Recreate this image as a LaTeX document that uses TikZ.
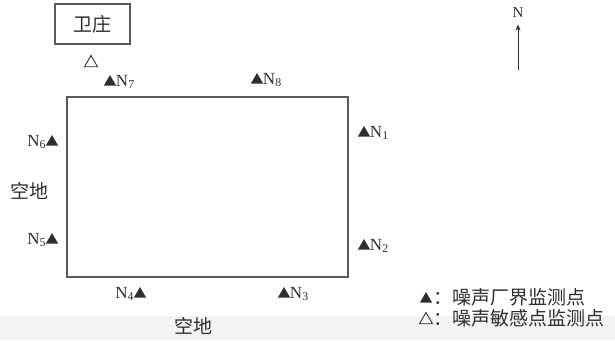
\documentclass[tikz,border=0pt]{standalone}
\usepackage{fontspec}
\setmainfont{Liberation Serif}
\newfontfamily\cjk{Noto Sans CJK SC}
\usetikzlibrary{
    arrows.meta,
    positioning,
    calc,
    shapes.geometric,
    backgrounds
}
\definecolor{wzInk}{HTML}{2E2E2E}
\definecolor{wzLine}{HTML}{5A5A5A}
\definecolor{wzBand}{HTML}{F3F3F3}
\tikzset{
    wzFilled/.style={
        regular polygon,
        regular polygon sides=3,
        fill=wzInk,
        draw=none,
        inner sep=0pt,
        minimum size=14pt
    },
    wzHollow/.style={
        regular polygon,
        regular polygon sides=3,
        draw=wzInk,
        fill=white,
        line width=0.9pt,
        inner sep=0pt,
        minimum size=15pt
    },
    wzPoint/.style={
        text=wzInk,
        font=\fontsize{17}{20}\selectfont,
        inner sep=0.5pt
    },
    wzText/.style={
        text=wzInk,
        font=\cjk\fontsize{19}{22}\selectfont,
        inner sep=0.5pt
    },
    wzBox/.style={
        draw=wzLine,
        line width=1.3pt,
        minimum width=75pt,
        minimum height=40pt,
        inner sep=0pt
    },
    wzSite/.style={
        draw=wzLine,
        line width=1.5pt,
        minimum width=281pt,
        minimum height=180pt,
        inner sep=0pt
    },
    wzArrow/.style={-{Stealth[length=6pt,width=5pt]},line width=1pt,draw=wzInk}
}
\begin{document}
\begin{tikzpicture}[x=1pt,y=-1pt]
        \useasboundingbox (0,0) rectangle (615,340);
        \begin{scope}[on background layer]
            \fill[wzBand] (0,316) rectangle (615,340);
        \end{scope}

        % village and site
        \node[wzBox] (village) at (92.5,24) {};
        \node[wzText] (villageName) at (village) {卫庄};
        \node[wzSite] (site) at (207.5,187) {};

        % sensitive point
        \node[wzHollow] (sens) at (91,63) {};

        % boundary points
        \node[wzFilled] (t1) at (364,133) {};
        \node[wzPoint,right=1pt of t1] (n1) {N\textsubscript{1}};
        \node[wzFilled] (t2) at (364,246) {};
        \node[wzPoint,right=1pt of t2] (n2) {N\textsubscript{2}};
        \node[wzFilled] (t3) at (284,294) {};
        \node[wzPoint,right=1pt of t3] (n3) {N\textsubscript{3}};
        \node[wzFilled] (t4) at (140,294) {};
        \node[wzPoint,left=1pt of t4] (n4) {N\textsubscript{4}};
        \node[wzFilled] (t5) at (52,240) {};
        \node[wzPoint,left=1pt of t5] (n5) {N\textsubscript{5}};
        \node[wzFilled] (t6) at (52,142) {};
        \node[wzPoint,left=1pt of t6] (n6) {N\textsubscript{6}};
        \node[wzFilled] (t7) at (110,82) {};
        \node[wzPoint,right=1pt of t7] (n7) {N\textsubscript{7}};
        \node[wzFilled] (t8) at (257,80) {};
        \node[wzPoint,right=1pt of t8] (n8) {N\textsubscript{8}};

        % surroundings
        \node[wzText] (westLand) at (29,191) {空地};
        \node[wzText] (southLand) at (193,326) {空地};

        % north arrow
        \node[wzPoint,font=\fontsize{15}{17}\selectfont] (north) at (518,13) {N};
        \coordinate (northTail) at (518,70);
        \draw[wzArrow] (northTail) -- ($(north.south)+(0,6)$);

        % legend
        \node[wzFilled] (legFilled) at (426,299) {};
        \node[wzText,anchor=west] (legOne) at (433,297) {：噪声厂界监测点};
        \node[wzHollow] (legHollow) at (426,320) {};
        \node[wzText,anchor=west] (legTwo) at (433,318) {：噪声敏感点监测点};
\end{tikzpicture}
\end{document}
